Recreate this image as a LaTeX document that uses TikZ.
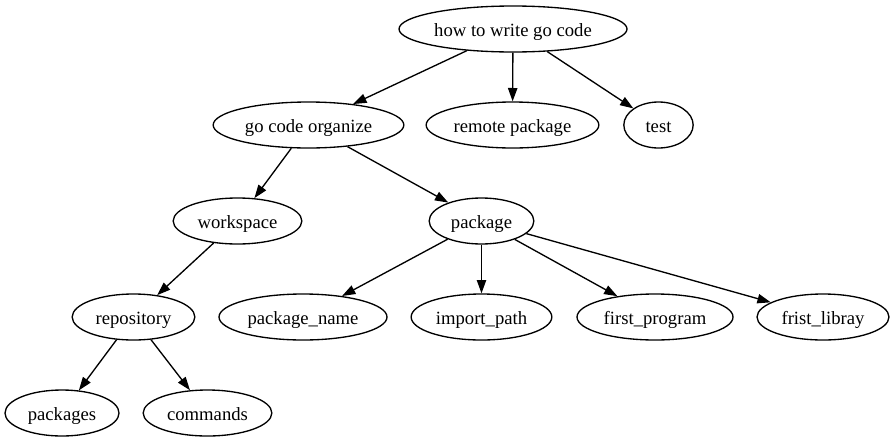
\documentclass[tikz,border=0pt]{standalone}
\usepackage{fontspec}
\setmainfont{Liberation Serif}
\usetikzlibrary{shapes.geometric,arrows.meta}
\tikzset{
  gvnode/.style={draw, ellipse, line width=1pt, minimum height=34.5pt,
    inner xsep=1pt, inner ysep=2pt, text height=12.5pt, text depth=2pt,
    font=\fontsize{14}{16}\selectfont},
  gvedge/.style={line width=1pt, -{Triangle[length=10pt,width=7pt]}}
}
\begin{document}
\begin{tikzpicture}[x=0.75pt,y=-0.75pt]
  \useasboundingbox (0,0) rectangle (895,443);
  % rank 0
  \node[gvnode, minimum width=171pt] (howto) at (513,29) {how to write go code};
  % rank 1
  \node[gvnode, minimum width=143pt] (organize) at (308.5,125) {go code organize};
  \node[gvnode, minimum width=129.5pt] (remote) at (512.5,125) {remote package};
  \node[gvnode, minimum width=52pt] (test) at (658.5,125) {test};
  % rank 2
  \node[gvnode, minimum width=96.5pt] (workspace) at (237.5,221) {workspace};
  \node[gvnode, minimum width=78.5pt] (package) at (481.5,221) {package};
  % rank 3
  \node[gvnode, minimum width=92pt] (repository) at (133.5,317) {repository};
  \node[gvnode, minimum width=126pt] (pkgname) at (303,317) {package\_name};
  \node[gvnode, minimum width=105.5pt] (importpath) at (481.5,317) {import\_path};
  \node[gvnode, minimum width=117pt] (firstprog) at (655,317) {first\_program};
  \node[gvnode, minimum width=99pt] (fristlib) at (823,317) {frist\_libray};
  % rank 4
  \node[gvnode, minimum width=85.5pt] (packages) at (62,413) {packages};
  \node[gvnode, minimum width=96.5pt] (commands) at (207.5,413) {commands};
  % edges
  \draw[gvedge] (howto) -- (organize);
  \draw[gvedge] (howto) -- (remote);
  \draw[gvedge] (howto) -- (test);
  \draw[gvedge] (organize) -- (workspace);
  \draw[gvedge] (organize) -- (package);
  \draw[gvedge] (workspace) -- (repository);
  \draw[gvedge] (package) -- (pkgname);
  \draw[gvedge] (package) -- (importpath);
  \draw[gvedge] (package) -- (firstprog);
  \draw[gvedge] (package) -- (fristlib);
  \draw[gvedge] (repository) -- (packages);
  \draw[gvedge] (repository) -- (commands);
\end{tikzpicture}
\end{document}
